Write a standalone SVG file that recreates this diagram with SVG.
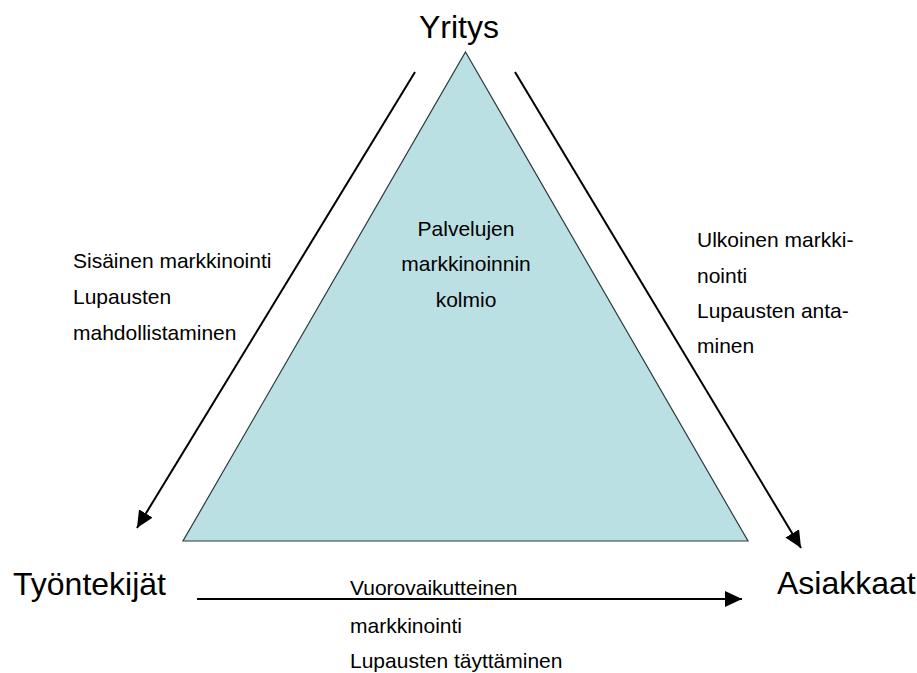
<svg xmlns="http://www.w3.org/2000/svg" width="917" height="673" viewBox="0 0 917 673">
<style>
.big{font-family:"Liberation Sans",Arial,sans-serif;font-size:32px;fill:#000}
.small{font-family:"Liberation Sans",Arial,sans-serif;font-size:21px;fill:#000}
.arr{stroke:#000;stroke-width:2;fill:none;marker-end:url(#ah)}
</style>
<defs>
<marker id="ah" markerUnits="userSpaceOnUse" markerWidth="18" markerHeight="16" refX="17" refY="8" orient="auto">
<path d="M0,0 L17,8 L0,16 Z" fill="#000"/>
</marker>
</defs>
<rect width="917" height="673" fill="#fff"/>
<g id="triangle">
<polygon points="465.5,52 748,541 183,541" fill="#BAE0E3" stroke="#2a3a3a" stroke-width="1.2"/>
<text class="small" x="466" y="236" text-anchor="middle">Palvelujen</text>
<text class="small" x="466" y="271" text-anchor="middle">markkinoinnin</text>
<text class="small" x="466" y="307" text-anchor="middle">kolmio</text>
</g>
<g id="yritys"><text class="big" x="459" y="38" text-anchor="middle">Yritys</text></g>
<g id="tyontekijat"><text class="big" x="13" y="595">Työntekijät</text></g>
<g id="asiakkaat"><text class="big" x="777" y="594">Asiakkaat</text></g>
<g id="connectors">
<line class="arr" x1="415" y1="72" x2="137" y2="528"/>
<line class="arr" x1="515" y1="72" x2="801" y2="548"/>
<line class="arr" x1="197" y1="599" x2="742" y2="599"/>
</g>
<g id="label-left">
<text class="small" x="73" y="268">Sisäinen markkinointi</text>
<text class="small" x="73" y="304">Lupausten</text>
<text class="small" x="73" y="340">mahdollistaminen</text>
</g>
<g id="label-right">
<text class="small" x="697" y="247">Ulkoinen markki-</text>
<text class="small" x="697" y="283">nointi</text>
<text class="small" x="697" y="318">Lupausten anta-</text>
<text class="small" x="697" y="353">minen</text>
</g>
<g id="label-bottom">
<text class="small" x="350" y="595">Vuorovaikutteinen</text>
<text class="small" x="350" y="633">markkinointi</text>
<text class="small" x="350" y="668">Lupausten täyttäminen</text>
</g>
</svg>
